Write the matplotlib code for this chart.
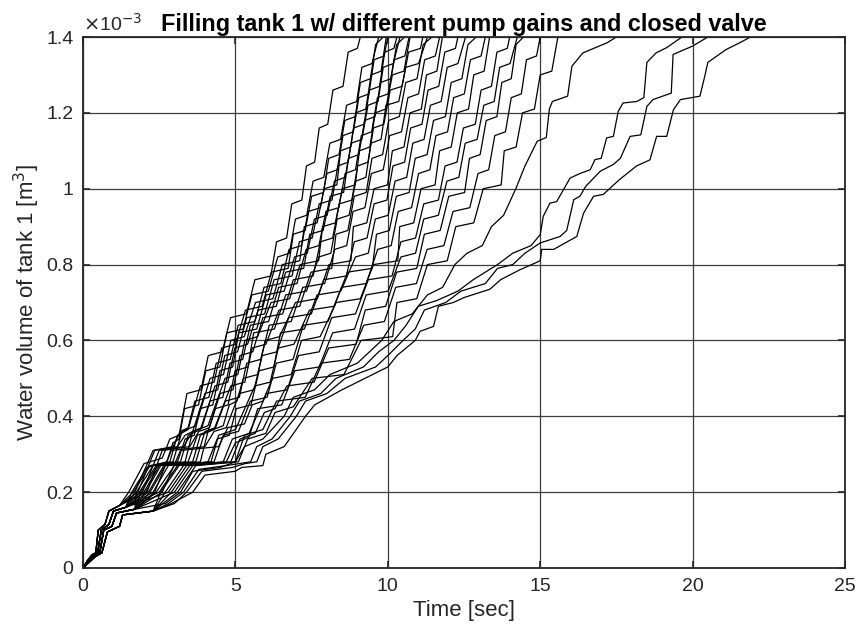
import numpy as np
import matplotlib
matplotlib.use("Agg")
import matplotlib.pyplot as plt

# Water volume of tank 1 (units of 1e-3 m^3) vs time (s), one run per pump gain.
# Each run = one of four early-fill shapes + the stepped points.

start_a = [(0, 0), (0.15, 0.02), (0.3, 0.035), (0.42, 0.04), (0.5, 0.1), (0.72, 0.115), (0.85, 0.15), (1.2, 0.165)]
start_b = [(0, 0), (0.15, 0.015), (0.32, 0.03), (0.48, 0.04), (0.6, 0.1), (0.85, 0.115), (1.0, 0.15), (1.4, 0.16)]
start_c = [(0, 0), (0.18, 0.015), (0.35, 0.03), (0.55, 0.04), (0.68, 0.1), (0.95, 0.11), (1.1, 0.145), (1.7, 0.155)]
start_d = [(0, 0), (0.2, 0.015), (0.4, 0.03), (0.62, 0.04), (0.8, 0.095), (1.2, 0.11), (1.3, 0.14), (2.3, 0.15)]

fast_runs = [
    (start_a, [(1.5, .2), (2.0, .275), (2.6, .29), (2.85, .34), (3.15, .35), (3.41, .46), (3.87, .47), (4.11, .56), (4.57, .57),
               (4.84, .66), (5.36, .67), (5.64, .76), (6.16, .77), (6.35, .86), (6.68, .87), (6.85, .96), (7.18, .97),
               (7.33, 1.06), (7.6, 1.07), (7.75, 1.16), (8.03, 1.17), (8.2, 1.26), (8.53, 1.27), (8.7, 1.36), (9.0, 1.37), (9.1, 1.4)]),
    (start_b, [(1.6, .2), (2.1, .265), (2.75, .28), (2.95, .33), (3.15, .34), (3.33, .42), (3.79, .43), (4.03, .52), (4.49, .53),
               (4.72, .62), (5.25, .63), (5.54, .72), (6.08, .73), (6.39, .82), (6.77, .83), (6.97, .92), (7.34, .93),
               (7.55, 1.02), (7.9, 1.03), (8.1, 1.12), (8.45, 1.13), (8.65, 1.22), (8.98, 1.23), (9.15, 1.32), (9.48, 1.33), (9.7, 1.4)]),
    (start_a, [(1.65, .2), (2.2, .27), (2.85, .28), (3.1, .35), (3.45, .365), (3.85, .48), (4.3, .49), (4.55, .58), (5.0, .59),
               (5.33, .68), (5.88, .69), (6.18, .78), (6.73, .79), (6.9, .88), (7.29, .89), (7.5, .98), (7.89, .99),
               (8.06, 1.08), (8.4, 1.09), (8.59, 1.18), (8.93, 1.19), (9.1, 1.28), (9.43, 1.29), (9.6, 1.38), (9.85, 1.4)]),
    (start_b, [(1.7, .2), (2.3, .31), (2.95, .32), (3.2, .36), (3.45, .37), (3.67, .44), (4.13, .45), (4.37, .54), (4.83, .55),
               (5.09, .64), (5.64, .65), (5.94, .74), (6.49, .75), (6.76, .84), (7.17, .85), (7.39, .94), (7.79, .95),
               (8.0, 1.04), (8.34, 1.05), (8.53, 1.14), (8.87, 1.15), (9.05, 1.24), (9.38, 1.25), (9.55, 1.34), (9.88, 1.35), (10.0, 1.4)]),
    (start_c, [(1.75, .2), (2.3, .27), (2.95, .28), (3.25, .36), (3.7, .375), (4.17, .5), (4.61, .51), (4.85, .6), (5.29, .61),
               (5.66, .7), (6.23, .71), (6.54, .8), (7.11, .81), (7.26, .9), (7.68, .91), (7.91, 1.0), (8.33, 1.01),
               (8.45, 1.1), (8.78, 1.11), (8.95, 1.2), (9.28, 1.21), (9.45, 1.3), (9.78, 1.31), (9.95, 1.4)]),
    (start_a, [(1.8, .2), (2.35, .31), (3.1, .32), (3.35, .35), (3.6, .36), (4.0, .46), (4.42, .47), (4.65, .56), (5.07, .57),
               (5.37, .66), (5.96, .67), (6.27, .76), (6.86, .77), (7.1, .86), (7.52, .87), (7.75, .96), (8.17, .97),
               (8.36, 1.06), (8.7, 1.07), (8.88, 1.16), (9.22, 1.17), (9.4, 1.26), (9.73, 1.27), (9.9, 1.36), (10.2, 1.37), (10.3, 1.4)]),
    (start_b, [(1.85, .2), (2.4, .27), (3.1, .28), (3.35, .34), (3.65, .35), (3.84, .42), (4.26, .43), (4.49, .52), (4.91, .53),
               (5.11, .62), (5.7, .63), (6.01, .72), (6.6, .73), (6.94, .82), (7.36, .83), (7.59, .92), (8.01, .93),
               (8.25, 1.02), (8.6, 1.03), (8.8, 1.12), (9.15, 1.13), (9.35, 1.22), (9.68, 1.23), (9.85, 1.32), (10.18, 1.33), (10.4, 1.4)]),
    (start_c, [(1.9, .2), (2.45, .27), (3.2, .28), (3.45, .35), (3.85, .365), (4.33, .48), (4.75, .49), (4.98, .58), (5.4, .59),
               (5.75, .68), (6.34, .69), (6.65, .78), (7.24, .79), (7.44, .88), (7.88, .89), (8.11, .98), (8.55, .99),
               (8.71, 1.08), (9.05, 1.09), (9.24, 1.18), (9.58, 1.19), (9.76, 1.28), (10.1, 1.29), (10.29, 1.38), (10.55, 1.4)]),
    (start_a, [(1.95, .2), (2.5, .31), (3.3, .32), (3.6, .36), (3.9, .37), (4.17, .44), (4.59, .45), (4.82, .54), (5.24, .55),
               (5.49, .64), (6.09, .65), (6.42, .74), (7.02, .75), (7.32, .84), (7.74, .85), (7.97, .94), (8.39, .95),
               (8.6, 1.04), (8.94, 1.05), (9.13, 1.14), (9.47, 1.15), (9.66, 1.24), (10.01, 1.25), (10.21, 1.34), (10.56, 1.35), (10.7, 1.4)]),
    (start_b, [(2.0, .2), (2.5, .27), (3.35, .28), (3.6, .36), (4.1, .375), (4.66, .5), (5.08, .51), (5.31, .6), (5.73, .61),
               (6.17, .7), (6.78, .71), (7.12, .8), (7.73, .81), (7.86, .9), (8.28, .91), (8.51, 1.0), (8.93, 1.01),
               (9.07, 1.1), (9.41, 1.11), (9.59, 1.2), (9.93, 1.21), (10.15, 1.3), (10.53, 1.31), (10.73, 1.4)]),
    (start_c, [(2.05, .2), (2.55, .27), (3.45, .28), (3.75, .35), (4.1, .36), (4.5, .46), (4.92, .47), (5.15, .56), (5.57, .57),
               (5.9, .66), (6.55, .67), (6.9, .76), (7.55, .77), (7.79, .86), (8.19, .87), (8.41, .96), (8.82, .97),
               (9.01, 1.06), (9.35, 1.07), (9.53, 1.16), (9.87, 1.17), (10.08, 1.26), (10.47, 1.27), (10.68, 1.36), (11.07, 1.37), (11.15, 1.4)]),
    (start_a, [(2.1, .2), (2.6, .31), (3.5, .32), (3.8, .36), (4.15, .37), (4.34, .42), (4.76, .43), (4.99, .52), (5.41, .53),
               (5.6, .62), (6.28, .63), (6.65, .72), (7.33, .73), (7.74, .82), (8.13, .83), (8.34, .92), (8.73, .93),
               (8.95, 1.02), (9.28, 1.03), (9.45, 1.12), (9.78, 1.13), (9.94, 1.22), (10.36, 1.23), (10.59, 1.32), (11.01, 1.33), (11.3, 1.4)]),
]

mid_runs = [
    (start_b, [(2.15, .2), (2.65, .27), (3.6, .28), (3.85, .35), (4.3, .365), (4.85, .48), (5.31, .49), (5.55, .58), (6.0, .59),
               (6.43, .68), (7.11, .69), (7.48, .78), (8.16, .79), (8.3, .88), (8.69, .89), (8.9, .98), (9.29, .99),
               (9.48, 1.08), (9.83, 1.09), (10.03, 1.18), (10.38, 1.19), (10.59, 1.28), (10.96, 1.29), (11.16, 1.38), (11.45, 1.4)]),
    (start_c, [(2.2, .2), (2.7, .27), (3.7, .28), (4.0, .36), (4.35, .37), (4.67, .44), (5.13, .45), (5.37, .54), (5.83, .55),
               (6.11, .64), (6.83, .65), (7.21, .74), (7.93, .75), (8.26, .84), (8.65, .85), (8.86, .94), (9.25, .95),
               (9.46, 1.04), (9.85, 1.05), (10.06, 1.14), (10.45, 1.15), (10.66, 1.24), (11.01, 1.25), (11.21, 1.34), (11.56, 1.35), (11.7, 1.4)]),
    (start_b, [(2.3, .2), (2.8, .27), (3.85, .28), (4.1, .36), (4.6, .375), (4.8, .43), (5.05, .44), (5.26, .5), (5.73, .51),
               (5.98, .6), (6.45, .61), (6.97, .7), (7.69, .71), (8.07, .8), (8.79, .81), (8.87, .9), (9.31, .91),
               (9.55, 1.0), (9.99, 1.01), (10.15, 1.1), (10.53, 1.11), (10.73, 1.2), (11.1, 1.21), (11.27, 1.3), (11.61, 1.31), (11.79, 1.4)]),
    (start_c, [(2.35, .2), (2.9, .31), (4.0, .32), (4.3, .36), (4.7, .37), (5.13, .46), (5.61, .47), (5.88, .56), (6.36, .57),
               (6.75, .66), (7.49, .67), (7.9, .76), (8.64, .77), (8.9, .86), (9.32, .87), (9.55, .96), (9.97, .97),
               (10.17, 1.06), (10.55, 1.07), (10.75, 1.16), (11.12, 1.17), (11.32, 1.26), (11.67, 1.27), (11.87, 1.36), (12.22, 1.37), (12.3, 1.4)]),
    (start_c, [(2.4, .2), (3.0, .27), (4.1, .28), (4.4, .34), (4.8, .35), (5.03, .42), (5.51, .43), (5.78, .52), (6.26, .53),
               (6.48, .62), (7.26, .63), (7.68, .72), (8.46, .73), (8.94, .82), (9.36, .83), (9.59, .92), (10.01, .93),
               (10.24, 1.02), (10.62, 1.03), (10.82, 1.12), (11.19, 1.13), (11.4, 1.22), (11.75, 1.23), (11.95, 1.32), (12.3, 1.33), (12.55, 1.4)]),
    (start_b, [(2.5, .2), (3.1, .27), (4.2, .28), (4.45, .35), (5.0, .365), (5.64, .48), (6.14, .49), (6.41, .58), (6.92, .59),
               (7.43, .68), (8.24, .69), (8.68, .78), (9.49, .79), (9.63, .88), (10.05, .89), (10.28, .98), (10.7, .99),
               (10.9, 1.08), (11.29, 1.09), (11.5, 1.18), (11.89, 1.19), (12.08, 1.28), (12.43, 1.29), (12.63, 1.38), (12.9, 1.4)]),
    (start_d, [(2.55, .2), (3.15, .27), (4.3, .28), (4.6, .35), (5.1, .36), (5.49, .44), (6.04, .45), (6.34, .54), (6.89, .55),
               (7.23, .64), (8.04, .65), (8.48, .74), (9.29, .75), (9.67, .84), (10.11, .85), (10.34, .94), (10.78, .95),
               (11.01, 1.04), (11.38, 1.05), (11.58, 1.14), (11.96, 1.15), (12.16, 1.24), (12.51, 1.25), (12.71, 1.34), (13.06, 1.35), (13.2, 1.4)]),
    (start_c, [(2.6, .2), (3.2, .31), (4.45, .32), (4.75, .37), (5.3, .38), (5.55, .43), (5.9, .44), (6.22, .5), (6.83, .51),
               (7.17, .6), (7.78, .61), (8.31, .7), (9.1, .71), (9.53, .8), (10.33, .81), (10.39, .9), (10.85, .91),
               (11.09, 1.0), (11.55, 1.01), (11.7, 1.1), (12.08, 1.11), (12.28, 1.2), (12.65, 1.21), (12.82, 1.3), (13.16, 1.31), (13.34, 1.4)]),
    (start_d, [(2.7, .2), (3.3, .27), (4.6, .28), (4.9, .34), (5.45, .355), (6.02, .46), (6.7, .47), (7.07, .56), (7.75, .57),
               (8.16, .66), (8.94, .67), (9.36, .76), (10.14, .77), (10.43, .86), (10.91, .87), (11.18, .96), (11.66, .97),
               (11.88, 1.06), (12.27, 1.07), (12.48, 1.16), (12.87, 1.17), (13.06, 1.26), (13.4, 1.27), (13.58, 1.36), (13.92, 1.37), (14.0, 1.4)]),
    (start_b, [(2.8, .2), (3.4, .27), (4.7, .28), (5.0, .33), (5.45, .345), (5.73, .42), (6.52, .43), (6.95, .52), (7.75, .53),
               (8.19, .62), (8.91, .63), (9.29, .72), (10.01, .73), (10.43, .82), (10.91, .83), (11.18, .92), (11.66, .93),
               (11.94, 1.02), (12.33, 1.03), (12.54, 1.12), (12.93, 1.13), (13.15, 1.22), (13.49, 1.23), (13.67, 1.32), (14.01, 1.33), (14.25, 1.4)]),
    (start_d, [(2.9, .2), (3.5, .27), (4.85, .28), (5.15, .34), (5.65, .355), (5.95, .41), (6.3, .42), (6.69, .48), (7.58, .49),
               (8.06, .58), (8.96, .59), (9.26, .68), (9.93, .69), (10.29, .78), (10.95, .79), (11.2, .88), (11.72, .89),
               (12.0, .98), (12.52, .99), (12.68, 1.08), (13.03, 1.09), (13.23, 1.18), (13.58, 1.19), (13.74, 1.28), (14.05, 1.29), (14.21, 1.38), (14.45, 1.4)]),
    (start_c, [(3.0, .2), (3.6, .27), (5.0, .28), (5.3, .35), (5.9, .365), (6.35, .44), (7.29, .45), (7.8, .54), (8.74, .55),
               (9.21, .64), (9.89, .65), (10.26, .74), (10.94, .75), (11.29, .84), (11.84, .85), (12.14, .94), (12.69, .95),
               (12.96, 1.04), (13.31, 1.05), (13.51, 1.14), (13.86, 1.15), (14.05, 1.24), (14.38, 1.25), (14.55, 1.34), (14.88, 1.35), (15.0, 1.4)]),
    (start_d, [(3.1, .2), (3.7, .27), (5.1, .28), (5.4, .34), (6.0, .355), (6.3, .41), (6.9, .425), (7.52, .5), (8.56, .51),
               (9.12, .6), (10.16, .61), (10.3, .7), (10.95, .71), (11.3, .8), (11.95, .81), (12.23, .9), (12.82, .91),
               (13.13, 1.0), (13.72, 1.01), (13.82, 1.1), (14.21, 1.11), (14.42, 1.2), (14.81, 1.21), (15.0, 1.3), (15.38, 1.31), (15.58, 1.4)]),
]

slow_runs = [
    (start_c, [(2.7, .17), (3.2, .2), (3.6, .255), (4.5, .265), (5.0, .28), (5.3, .32), (5.9, .34), (6.6, .4), (6.9, .45),
               (7.6, .47), (8.1, .51), (9.0, .54), (9.4, .57), (9.8, .6), (10.2, .65), (10.8, .67), (11.3, .72), (11.8, .74),
               (12.2, .8), (12.6, .83), (13.1, .85), (13.4, .9), (13.8, .93), (14.2, 1.0), (14.5, 1.06), (14.9, 1.125),
               (15.2, 1.135), (15.3, 1.21), (15.4, 1.23), (15.9, 1.244), (16.04, 1.323), (16.4, 1.358), (17.2, 1.385), (17.5, 1.4)]),
    (start_d, [(2.8, .17), (3.3, .2), (3.8, .26), (4.7, .27), (5.5, .28), (5.7, .32), (6.2, .34), (6.8, .4), (7.1, .44),
               (7.8, .46), (8.3, .5), (9.2, .53), (9.7, .57), (10.2, .6), (10.6, .64), (11.0, .69), (11.6, .705), (12.3, .73),
               (12.8, .76), (13.6, .8), (14.1, .83), (14.7, .85), (15.0, .879), (15.1, .927), (15.32, .962), (15.54, .966),
               (15.98, 1.028), (16.3, 1.04), (16.64, 1.05), (16.8, 1.077), (17.0, 1.08), (17.18, 1.134), (17.4, 1.138),
               (17.56, 1.204), (17.72, 1.226), (18.17, 1.23), (18.4, 1.24), (18.5, 1.333), (18.8, 1.358), (19.15, 1.372), (19.65, 1.4)]),
    (start_d, [(3.0, .17), (3.4, .2), (3.9, .255), (4.9, .265), (5.3, .275), (5.7, .28), (5.9, .32), (6.4, .34), (7.0, .4),
               (7.3, .44), (8.0, .46), (8.6, .5), (9.6, .53), (10.0, .56), (10.5, .6), (10.9, .63), (11.2, .68), (11.9, .7),
               (12.4, .73), (13.2, .75), (13.6, .79), (14.1, .8), (14.5, .83), (15.0, .857), (15.65, .874), (15.87, .89),
               (16.1, .971), (16.3, .98), (16.5, 1.007), (16.97, 1.046), (17.4, 1.064), (17.63, 1.08), (17.95, 1.138),
               (18.3, 1.142), (18.5, 1.217), (18.7, 1.235), (19.3, 1.252), (19.36, 1.354), (20.0, 1.376), (20.5, 1.4)]),
    (start_d, [(2.9, .17), (3.6, .2), (4.0, .245), (5.0, .255), (5.2, .265), (5.9, .27), (6.0, .3), (6.6, .32), (7.3, .4),
               (7.6, .43), (8.5, .47), (9.0, .49), (10.0, .53), (10.3, .56), (10.9, .6), (11.06, .624), (11.5, .637),
               (11.66, .69), (12.15, .7), (12.5, .713), (13.35, .735), (13.7, .76), (14.3, .785), (15.0, .81), (15.05, .84),
               (15.44, .84), (16.2, .874), (16.42, .935), (16.75, .98), (17.07, .985), (17.6, 1.024), (18.16, 1.06),
               (18.6, 1.076), (18.82, 1.138), (19.15, 1.138), (19.37, 1.208), (19.6, 1.235), (20.24, 1.244), (20.4, 1.297),
               (20.5, 1.333), (21.1, 1.367), (21.55, 1.385), (21.9, 1.4)]),
]

x_ticks = [0, 5, 10, 15, 20, 25]
y_ticks = [0, 0.2, 0.4, 0.6, 0.8, 1.0, 1.2, 1.4]
y_tick_labels = ['0', '0.2', '0.4', '0.6', '0.8', '1', '1.2', '1.4']

plt.rcParams['font.family'] = ['Liberation Sans', 'DejaVu Sans']

fig = plt.figure(figsize=(8.58, 6.37), dpi=100)
ax = fig.add_axes([83 / 858, 1 - 568 / 637, (845 - 83) / 858, (568 - 37) / 637])

for start, pts in fast_runs + mid_runs + slow_runs:
    t, v = zip(*(start + pts))
    ax.plot(t, v, color='black', lw=0.9)

ax.set_xlim(0, 25)
ax.set_ylim(0, 1.4)
ax.set_xticks(x_ticks)
ax.set_yticks(y_ticks)
ax.set_yticklabels(y_tick_labels)
ax.grid(True, color='#3c3c3c', lw=0.9)
ax.set_axisbelow(True)
ax.tick_params(direction='in', top=True, right=True, length=5, width=1.2,
               labelsize=14, colors='#262626', pad=7)
for s in ax.spines.values():
    s.set_color('#262626')
    s.set_linewidth(1.3)

ax.set_xlabel('Time [sec]', fontsize=16, color='#262626', labelpad=4)
ax.set_ylabel('Water volume of tank 1 [m$^3$]', fontsize=16, color='#262626', labelpad=3)
ax.set_title('Filling tank 1 w/ different pump gains and closed valve',
             fontsize=16.8, fontweight='bold', pad=4)
ax.text(0.0, 1.005, r'$\times$10$^{-3}$', transform=ax.transAxes, fontsize=14,
        color='#262626', ha='left', va='bottom')

fig.savefig('out.png', dpi=100)
